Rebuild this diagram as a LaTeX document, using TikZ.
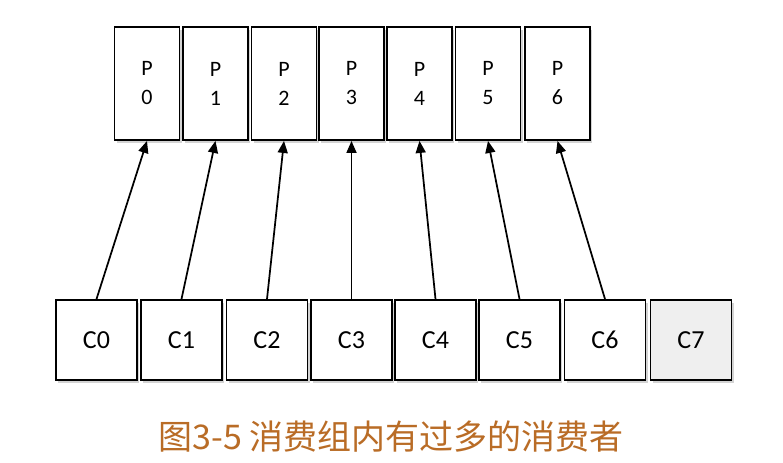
\documentclass[tikz,border=0pt]{standalone}
\usepackage{fontspec}
\setmainfont{Carlito}
\newfontfamily\cjk{Noto Sans CJK SC}
\usetikzlibrary{arrows.meta,shadows}

\definecolor{captionbrown}{RGB}{185,108,38}
\definecolor{idlegray}{RGB}{239,239,239}

\tikzset{every picture/.style={line width=0.75pt}}
\tikzset{
  pbox/.style={draw, line width=1.4pt, fill=white, minimum width=48.75pt, minimum height=84.75pt,
    align=center, inner sep=0pt, font=\fontsize{16.5}{21.75}\selectfont,
    drop shadow={shadow xshift=1.5pt, shadow yshift=-2.5pt, opacity=0.35}},
  cbox/.style={draw, line width=1.4pt, fill=white, minimum width=60.75pt, minimum height=60pt,
    inner sep=0pt, font=\fontsize{19.5}{22}\selectfont,
    drop shadow={shadow xshift=1.5pt, shadow yshift=-2.5pt, opacity=0.35}},
  arr/.style={line width=1.3pt, -{Triangle[length=9pt,width=7.5pt]}}
}

\begin{document}
\begin{tikzpicture}[x=0.75pt,y=0.75pt,yscale=-1,xscale=1]
\useasboundingbox (0,0) rectangle (783,462);

%Shape: Rectangle (partitions)
\draw (147,83.5) node [pbox] (p0) {P\\0};
\draw (215.5,83.5) node [pbox] (p1) {P\\1};
\draw (284,83.5) node [pbox] (p2) {P\\2};
\draw (351.5,83.5) node [pbox] (p3) {P\\3};
\draw (419.5,83.5) node [pbox] (p4) {P\\4};
\draw (488,83.5) node [pbox] (p5) {P\\5};
\draw (557.5,83.5) node [pbox] (p6) {P\\6};

%Shape: Rectangle (consumers)
\draw (96.5,340) node [cbox] (c0) {C0};
\draw (181.5,340) node [cbox] (c1) {C1};
\draw (267,340) node [cbox] (c2) {C2};
\draw (351.5,340) node [cbox] (c3) {C3};
\draw (435.5,340) node [cbox] (c4) {C4};
\draw (519.5,340) node [cbox] (c5) {C5};
\draw (605,340) node [cbox] (c6) {C6};
\draw (691,340) node [cbox, fill=idlegray] (c7) {C7};

%Straight Lines
\draw [arr] (c0.north) -- (p0.south);
\draw [arr] (c1.north) -- (p1.south);
\draw [arr] (c2.north) -- (p2.south);
\draw [arr] (c3.north) -- (p3.south);
\draw [arr] (c4.north) -- (p4.south);
\draw [arr] (c5.north) -- (p5.south);
\draw [arr] (c6.north) -- (p6.south);

% Text Node
\draw (391,437) node [text=captionbrown, font=\cjk\fontsize{25.5}{28}\selectfont] (caption) {图3-5 消费组内有过多的消费者};

\end{tikzpicture}
\end{document}
